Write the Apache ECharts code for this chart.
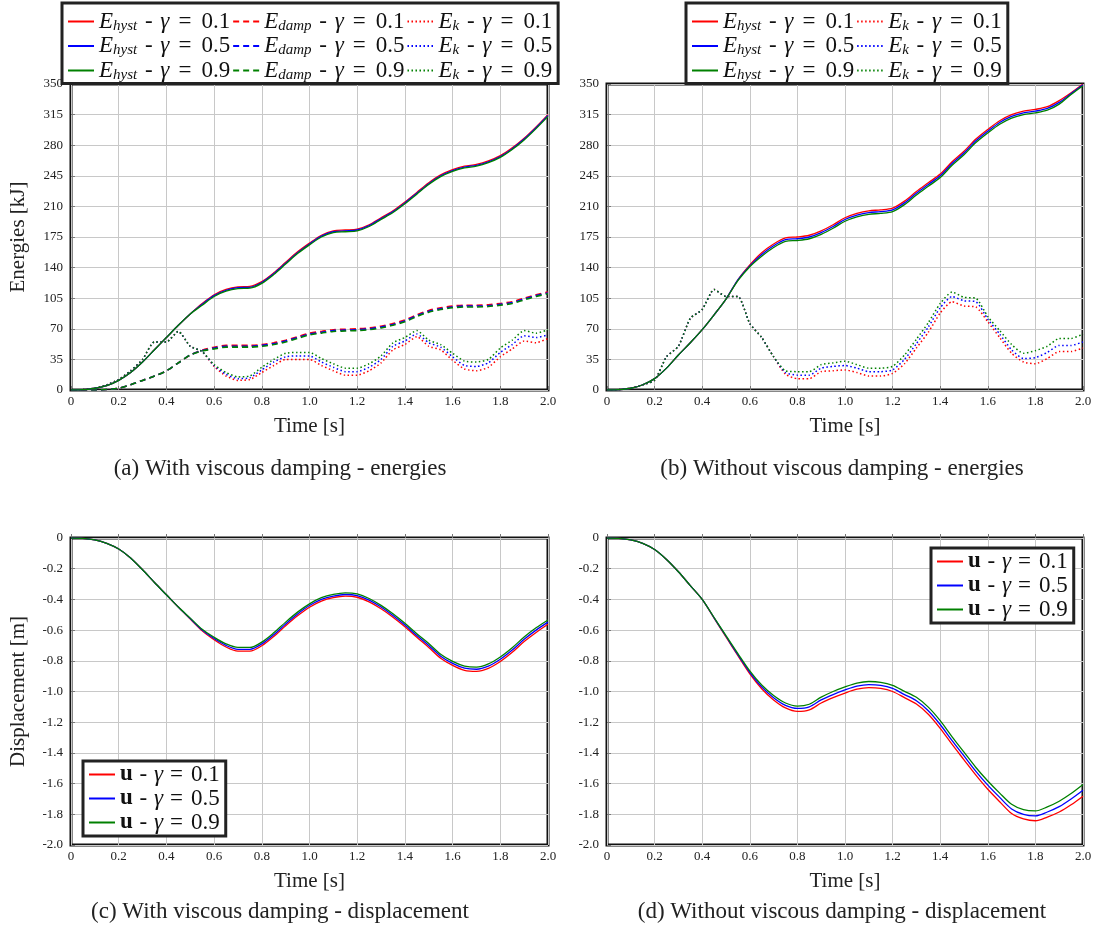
<!DOCTYPE html>
<html>
<head>
<meta charset="utf-8">
<script src="https://cdn.jsdelivr.net/npm/echarts@6/dist/echarts.min.js"></script>
<style>
html,body{margin:0;padding:0;background:#fff;}
#chart{width:1102px;height:943px;}
</style>
</head>
<body>
<div id="chart"></div>
<script>
// ---------- DATA ----------
const time = [0,0.05,0.1,0.15,0.2,0.25,0.3,0.35,0.4,0.45,0.5,0.55,0.6,0.65,0.7,0.75,0.8,0.85,0.9,0.95,1.0,1.05,1.1,1.15,1.2,1.25,1.3,1.35,1.4,1.45,1.5,1.55,1.6,1.65,1.7,1.75,1.8,1.85,1.9,1.95,2.0];
const xTickLabels = ['0','0.2','0.4','0.6','0.8','1.0','1.2','1.4','1.6','1.8','2.0'];
const energyTickLabels = ['0','35','70','105','140','175','210','245','280','315','350'];
const dispTickLabels = ['0','-0.2','-0.4','-0.6','-0.8','-1.0','-1.2','-1.4','-1.6','-1.8','-2.0'];
const captions = ['(a) With viscous damping - energies','(b) Without viscous damping - energies','(c) With viscous damping - displacement','(d) Without viscous damping - displacement'];

// (a) with viscous damping - energies [kJ]
const aHyst01 = [0,0.3,2,5,11,20,32,46,60,74,87,99,109,115,118,118.5,124,134,146,158,168,177,182,183,184,189,197,205,215,226,237,246,252,256,258,262,268,277,288,301,315];
const aHyst05 = [0,0.3,2,5,11,20,32,46,60,74,87,98,108,114,117,117.5,123,133,145,157,167,176,181,182,183,188,196,204,214,225,236,245,251,255,257,261,267,276,287,300,314];
const aHyst09 = [0,0.3,2,5,11,20,32,46,60,74,87,97,107,113,116,116.5,122,132,144,156,166,175,180,181,182,187,195,203,213,224,235,244,250,254,256,260,266,275,286,299,313];
const aDamp01 = [0,0,0,0.5,2,6,11,16,22,31,40,45.5,49,51,51,51,52,54,57,61,65,67,69,69.5,70,71,73,76,80,86,91,94,96,97,97,97.5,99,101,105,109,112];
const aDamp05 = [0,0,0,0.5,2,6,11,16,22,31,40,45,48,50,50,50,51,53,56,60,64,66,68,68.5,69,70,72,75,79,85,90,93,95,96,96,96.5,98,100,104,108,111];
const aDamp09 = [0,0,0,0.5,2,6,11,16,22,31,40,44.5,47,49,49,49,50,52,55,59,63,65,67,67.5,68,69,71,74,78,84,89,92,94,95,95,95.5,97,99,103,107,110];
const aKin01 = [0,0.5,2,6,12,22,35,55,55,67,50,44,27,16,11,12,20,28,35,35,35,28,22,17,17,22,31,46,52,61,50,46,34,24,22,26,38,47,56,54,59];
const aKin05 = [0,0.5,2,6,12,22,35,55,55,67,50,44,28,18,13,14,23,32,38,39,39,32,26,21,21,26,35,50,56,64,54,49,38,28,27,31,43,52,62,60,63];
const aKin09 = [0,0.5,2,6,12,22,35,55,55,67,50,44,29,20,15,16,26,35,42,43,43,36,30,25,25,30,39,54,60,68,57,52,42,33,32,35,48,57,68,65,69];

// (b) without viscous damping - energies [kJ]
const bHyst01 = [0,0.3,2,6,13,25,40,54,69,86,104,126,143,157,167,174,175,177,182,189,197,202,205,206,208,216,227,237,247,261,273,287,298,308,315,319,321,324,331,340,350];
const bHyst05 = [0,0.3,2,6,13,25,40,54,69,86,104,126,142,155,165,172,173,175,180,187,195,200,203,204,206,214,225,235,245,259,271,285,296,306,313,317,319,322,329,339,349];
const bHyst09 = [0,0.3,2,6,13,25,40,54,69,86,104,125,141,153,163,170,171,173,178,185,193,198,201,202,204,212,223,233,243,257,269,283,294,304,311,315,317,320,327,338,348];
const bKin01 = [0,0.5,2,6,11,38,50,82,92,115,107,107,76,60,38,18,13,13,21,22,23,20,16,16,19,30,48,66,88,101,96,95,78,60,42,32,30,36,44,44,48];
const bKin05 = [0,0.5,2,6,11,38,50,82,92,115,107,107,76,60,38,20,17,17,25,27,28,25,21,21,23,35,53,72,94,107,102,101,81,64,46,36,37,43,51,51,55];
const bKin09 = [0,0.5,2,6,11,38,50,82,92,115,107,107,76,60,38,22,21,21,29,31,33,29,25,25,27,40,58,77,99,112,106,105,84,68,52,42,45,50,59,59,64];

// (c) with viscous damping - displacement [m]
const cU01 = [0,-0.002,-0.012,-0.035,-0.072,-0.13,-0.207,-0.29,-0.37,-0.45,-0.528,-0.605,-0.663,-0.71,-0.737,-0.737,-0.702,-0.642,-0.572,-0.507,-0.451,-0.411,-0.389,-0.379,-0.386,-0.416,-0.461,-0.516,-0.578,-0.647,-0.713,-0.783,-0.83,-0.862,-0.869,-0.85,-0.805,-0.745,-0.675,-0.615,-0.562];
const cU05 = [0,-0.002,-0.012,-0.035,-0.072,-0.13,-0.207,-0.29,-0.37,-0.45,-0.525,-0.6,-0.655,-0.7,-0.725,-0.725,-0.69,-0.63,-0.56,-0.495,-0.44,-0.40,-0.378,-0.368,-0.375,-0.405,-0.45,-0.505,-0.567,-0.635,-0.70,-0.77,-0.817,-0.848,-0.855,-0.835,-0.79,-0.73,-0.66,-0.60,-0.548];
const cU09 = [0,-0.002,-0.012,-0.035,-0.072,-0.13,-0.207,-0.29,-0.37,-0.45,-0.522,-0.595,-0.647,-0.69,-0.713,-0.713,-0.678,-0.618,-0.548,-0.483,-0.429,-0.389,-0.367,-0.357,-0.364,-0.394,-0.439,-0.494,-0.556,-0.623,-0.687,-0.757,-0.804,-0.834,-0.841,-0.82,-0.775,-0.715,-0.645,-0.585,-0.534];

// (d) without viscous damping - displacement [m]
const dU01 = [0,-0.002,-0.012,-0.035,-0.075,-0.14,-0.22,-0.31,-0.40,-0.522,-0.645,-0.767,-0.885,-0.982,-1.055,-1.107,-1.13,-1.12,-1.075,-1.04,-1.01,-0.985,-0.975,-0.98,-1.0,-1.04,-1.082,-1.148,-1.24,-1.345,-1.445,-1.545,-1.637,-1.718,-1.795,-1.83,-1.842,-1.818,-1.785,-1.738,-1.682];
const dU05 = [0,-0.002,-0.012,-0.035,-0.075,-0.14,-0.22,-0.31,-0.40,-0.52,-0.64,-0.76,-0.875,-0.97,-1.04,-1.09,-1.11,-1.10,-1.055,-1.02,-0.99,-0.965,-0.955,-0.96,-0.98,-1.02,-1.06,-1.125,-1.215,-1.32,-1.42,-1.52,-1.61,-1.69,-1.765,-1.80,-1.81,-1.785,-1.75,-1.70,-1.643];
const dU09 = [0,-0.002,-0.012,-0.035,-0.075,-0.14,-0.22,-0.31,-0.40,-0.518,-0.636,-0.753,-0.866,-0.958,-1.026,-1.075,-1.095,-1.083,-1.037,-1.0,-0.97,-0.945,-0.935,-0.94,-0.96,-0.999,-1.038,-1.102,-1.19,-1.295,-1.395,-1.495,-1.583,-1.662,-1.735,-1.77,-1.778,-1.752,-1.715,-1.665,-1.606];

// ---------- STYLE / BUILD ----------
const SERIF = "'Liberation Serif', 'DejaVu Serif', serif";
const RED = '#ff0000', BLUE = '#0000ff', GREEN = '#008000';
const SOLID = 'solid', DASH = [6, 4], DOT = [1.5, 2.5];

const legendText = {
  'aH1': '{m|E}{s|hyst}{nn| - }{m|γ}{ee|=}{n|0.1}',
  'aH5': '{m|E}{s|hyst}{nn| - }{m|γ}{ee|=}{n|0.5}',
  'aH9': '{m|E}{s|hyst}{nn| - }{m|γ}{ee|=}{n|0.9}',
  'aD1': '{m|E}{s|damp}{nn| - }{m|γ}{ee|=}{n|0.1}',
  'aD5': '{m|E}{s|damp}{nn| - }{m|γ}{ee|=}{n|0.5}',
  'aD9': '{m|E}{s|damp}{nn| - }{m|γ}{ee|=}{n|0.9}',
  'aK1': '{m|E}{s|k}{nn| - }{m|γ}{ee|=}{n|0.1}',
  'aK5': '{m|E}{s|k}{nn| - }{m|γ}{ee|=}{n|0.5}',
  'aK9': '{m|E}{s|k}{nn| - }{m|γ}{ee|=}{n|0.9}',
  'bH1': '{m|E}{s|hyst}{nn| - }{m|γ}{ee|=}{n|0.1}',
  'bH5': '{m|E}{s|hyst}{nn| - }{m|γ}{ee|=}{n|0.5}',
  'bH9': '{m|E}{s|hyst}{nn| - }{m|γ}{ee|=}{n|0.9}',
  'bK1': '{m|E}{s|k}{nn| - }{m|γ}{ee|=}{n|0.1}',
  'bK5': '{m|E}{s|k}{nn| - }{m|γ}{ee|=}{n|0.5}',
  'bK9': '{m|E}{s|k}{nn| - }{m|γ}{ee|=}{n|0.9}',
  'cU1': '{b|u}{n| - }{m|γ}{e|=}{n|0.1}',
  'cU5': '{b|u}{n| - }{m|γ}{e|=}{n|0.5}',
  'cU9': '{b|u}{n| - }{m|γ}{e|=}{n|0.9}',
  'dU1': '{b|u}{n| - }{m|γ}{e|=}{n|0.1}',
  'dU5': '{b|u}{n| - }{m|γ}{e|=}{n|0.5}',
  'dU9': '{b|u}{n| - }{m|γ}{e|=}{n|0.9}'
};
const FS = 23;
const rich = {
  m: {fontFamily: SERIF, fontStyle: 'italic', fontSize: FS, lineHeight: 24, color: '#111'},
  s: {fontFamily: SERIF, fontStyle: 'italic', fontSize: 15, lineHeight: 15, verticalAlign: 'bottom', color: '#111'},
  n: {fontFamily: SERIF, fontSize: FS, lineHeight: 24, padding: [0, 1, 0, 1], color: '#111'},
  nn: {fontFamily: SERIF, fontSize: FS, lineHeight: 24, padding: [0, 2, 0, 2], color: '#111'},
  e: {fontFamily: SERIF, fontSize: FS, lineHeight: 24, padding: [0, 7, 0, 7], color: '#111'},
  ee: {fontFamily: SERIF, fontSize: FS, lineHeight: 24, padding: [0, 9, 0, 9], color: '#111'},
  b: {fontFamily: SERIF, fontWeight: 'bold', fontSize: FS, lineHeight: 24, color: '#111'}
};

function mk(name, arr, color, type, width, gi, smooth) {
  return {
    name: name, type: 'line', xAxisIndex: gi, yAxisIndex: gi,
    data: time.map((t, i) => [t, arr[i]]),
    symbol: 'none', showSymbol: false, smooth: smooth, animation: false,
    lineStyle: {color: color, width: width, type: type},
    itemStyle: {color: color}
  };
}

const series = [
  mk('aK1', aKin01, RED, DOT, 1.5, 0, 0.2),
  mk('aK5', aKin05, BLUE, DOT, 1.5, 0, 0.2),
  mk('aK9', aKin09, GREEN, DOT, 1.5, 0, 0.2),
  mk('aD1', aDamp01, RED, DASH, 1.6, 0, 0.3),
  mk('aD5', aDamp05, BLUE, DASH, 1.6, 0, 0.3),
  mk('aD9', aDamp09, GREEN, DASH, 1.6, 0, 0.3),
  mk('aH1', aHyst01, RED, SOLID, 1.3, 0, 0.3),
  mk('aH5', aHyst05, BLUE, SOLID, 1.3, 0, 0.3),
  mk('aH9', aHyst09, GREEN, SOLID, 1.3, 0, 0.3),
  mk('bK1', bKin01, RED, DOT, 1.5, 1, 0.2),
  mk('bK5', bKin05, BLUE, DOT, 1.5, 1, 0.2),
  mk('bK9', bKin09, GREEN, DOT, 1.5, 1, 0.2),
  mk('bH1', bHyst01, RED, SOLID, 1.3, 1, 0.3),
  mk('bH5', bHyst05, BLUE, SOLID, 1.3, 1, 0.3),
  mk('bH9', bHyst09, GREEN, SOLID, 1.3, 1, 0.3),
  mk('cU1', cU01, RED, SOLID, 1.3, 2, 0.3),
  mk('cU5', cU05, BLUE, SOLID, 1.3, 2, 0.3),
  mk('cU9', cU09, GREEN, SOLID, 1.3, 2, 0.3),
  mk('dU1', dU01, RED, SOLID, 1.3, 3, 0.3),
  mk('dU5', dU05, BLUE, SOLID, 1.3, 3, 0.3),
  mk('dU9', dU09, GREEN, SOLID, 1.3, 3, 0.3)
];

const gridRects = [
  {left: 71, top: 84, width: 477, height: 306},
  {left: 607, top: 84, width: 476, height: 306},
  {left: 71, top: 538, width: 477, height: 307},
  {left: 607, top: 538, width: 476, height: 307}
];
const grids = gridRects.map(r => Object.assign({
  show: true, borderColor: '#111', borderWidth: 3, backgroundColor: 'transparent',
  containLabel: false, outerBoundsMode: 'none'
}, r));

const labelStyle = {fontFamily: SERIF, fontSize: 13, color: '#222'};
const nameStyle = {fontFamily: SERIF, fontSize: 21, color: '#222'};
const splitLine = {show: true, lineStyle: {color: '#c8c8c8', width: 1}};
const tick = {show: true, inside: true, length: 4, lineStyle: {color: '#777'}};

const xAxes = [0, 1, 2, 3].map(i => ({
  type: 'value', gridIndex: i, min: 0, max: 2, interval: 0.2,
  name: 'Time [s]', nameLocation: 'middle', nameGap: 26, nameTextStyle: nameStyle,
  axisLine: {show: false}, axisTick: tick, splitLine: splitLine,
  axisLabel: Object.assign({margin: 5, formatter: v => xTickLabels[Math.round(v / 0.2)]}, labelStyle)
}));
const yAxes = [0, 1, 2, 3].map(i => {
  const energy = i < 2;
  return {
    type: 'value', gridIndex: i,
    min: energy ? 0 : -2, max: energy ? 350 : 0, interval: energy ? 35 : 0.2,
    name: (i === 0 ? 'Energies [kJ]' : (i === 2 ? 'Displacement [m]' : '')),
    nameLocation: 'middle', nameGap: 42, nameRotate: 90, nameTextStyle: nameStyle,
    axisLine: {show: false}, axisTick: tick, splitLine: splitLine,
    axisLabel: Object.assign({margin: 8, formatter: v => energy ? energyTickLabels[Math.round(v / 35)] : dispTickLabels[Math.round(-v / 0.2)]}, labelStyle)
  };
});

function legend(left, top, data, height, pad) {
  return {
    type: 'plain', orient: 'vertical', left: left, top: top, height: height,
    itemGap: 1, itemWidth: 26, itemHeight: 14,
    padding: pad, borderColor: '#222', borderWidth: 3, backgroundColor: '#fff',
    itemStyle: {opacity: 0, borderWidth: 0},
    data: data, formatter: n => legendText[n],
    textStyle: {rich: rich, fontFamily: SERIF, fontSize: FS},
    selectedMode: false, z: 10
  };
}

const legends = [
  legend(62, 3, ['aH1','aH5','aH9','aD1','aD5','aD9','aK1','aK5','aK9'], 86, [7, 5, 1, 5]),
  legend(686, 3, ['bH1','bH5','bH9','bK1','bK5','bK9'], 86, [7, 5, 1, 5]),
  legend(83, 761, ['cU1','cU5','cU9'], 80, [2, 5, 2, 5]),
  legend(931, 548, ['dU1','dU5','dU9'], 80, [2, 5, 2, 5])
];

const capPos = [[280, 469], [842, 469], [280, 912], [842, 912]];
const graphics = captions.map((c, i) => ({
  type: 'text', x: capPos[i][0], y: capPos[i][1], z: 100,
  style: {text: c, font: '23px ' + SERIF, fill: '#222', align: 'center', verticalAlign: 'middle', textAlign: 'center', textVerticalAlign: 'middle'}
}));

const chart = echarts.init(document.getElementById('chart'), null, {renderer: 'canvas'});
chart.setOption({
  backgroundColor: '#fff',
  animation: false,
  grid: grids,
  xAxis: xAxes,
  yAxis: yAxes,
  legend: legends,
  series: series,
  graphic: graphics
});
</script>
</body>
</html>
